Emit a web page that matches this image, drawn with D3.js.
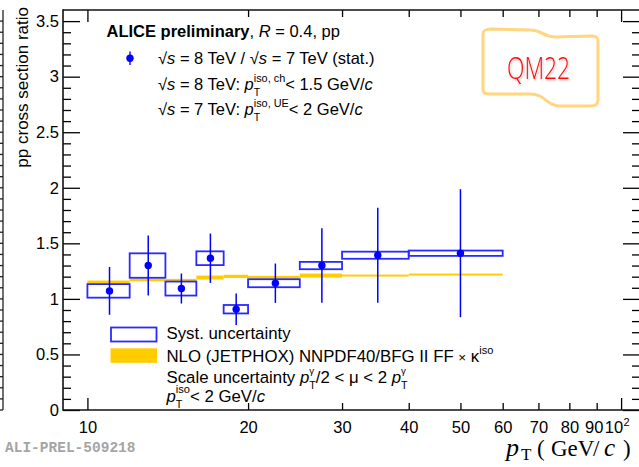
<!DOCTYPE html>
<html>
<head>
<meta charset="utf-8">
<script src="https://cdn.jsdelivr.net/npm/d3@7"></script>
<style>
  html, body { margin: 0; padding: 0; background: #fff; }
  svg text { white-space: pre; }
</style>
</head>
<body>
<svg id="chart" width="639" height="467"></svg>
<script>
// ---- data ----
const binLo    = [10, 12, 14, 16, 18, 20, 25, 30, 40];
const binHi    = [12, 14, 16, 18, 20, 25, 30, 40, 60];
const ptCenter = [11, 13, 15, 17, 19, 22.5, 27.5, 35, 50];
const ratio    = [1.072, 1.300, 1.093, 1.366, 0.907, 1.141, 1.300, 1.393, 1.411];
const statErr  = [0.215, 0.270, 0.135, 0.222, 0.142, 0.177, 0.335, 0.428, 0.576];
const systErr  = [0.061, 0.110, 0.063, 0.062, 0.038, 0.036, 0.033, 0.032, 0.024];
// NLO (JETPHOX) scale-uncertainty band, lower and upper edge per bin
const nloLo    = [1.140, 1.158, 1.160, 1.174, 1.188, 1.183, 1.192, 1.201, 1.210];
const nloHi    = [1.165, 1.184, 1.180, 1.210, 1.217, 1.207, 1.228, 1.219, 1.228];
// axis ticks
const xTicks      = [10, 20, 30, 40, 50, 60, 70, 80, 90, 100];
const xTickLabels = ["10", "20", "30", "40", "50", "60", "70", "80", "90", ""];
const yMajor      = [0, 0.5, 1, 1.5, 2, 2.5, 3, 3.5];
const yMajorLabels = ["0", "0.5", "1", "1.5", "2", "2.5", "3", "3.5"];

const FONT = "'Liberation Sans', Arial, Helvetica, sans-serif";
const SERIF = "'Liberation Serif', 'Times New Roman', serif";
const FS = 16.5;

const svg = d3.select("#chart");
const x = d3.scaleLog().domain([9, 108.5]).range([63, 640]);
const y = d3.scaleLinear().domain([0, 3.6]).range([410, 10]);

const X0 = x.range()[0], X1 = x.range()[1];
const Y0 = y.range()[0], Y1 = y.range()[1];

// ---- edge of neighbouring panel on the left ----
const nb = svg.append("g").attr("stroke", "#222").attr("stroke-width", 1.3);
nb.append("line").attr("x1", 3).attr("x2", 3).attr("y1", Y1).attr("y2", Y0);
const yMinorAll = d3.range(0, 36).map(i => i / 10);
nb.selectAll("line.t").data(yMinorAll).join("line").attr("class", "t")
  .attr("x1", 0).attr("x2", 3).attr("y1", d => y(d)).attr("y2", d => y(d));

// ---- NLO band ----
svg.append("g").selectAll("rect").data(binLo).join("rect")
  .attr("x", (d, i) => x(binLo[i]))
  .attr("width", (d, i) => x(binHi[i]) - x(binLo[i]))
  .attr("y", (d, i) => y(nloHi[i]))
  .attr("height", (d, i) => y(nloLo[i]) - y(nloHi[i]))
  .attr("fill", "#ffcc00");

// ---- systematic boxes ----
svg.append("g").selectAll("rect").data(ratio).join("rect")
  .attr("x", (d, i) => x(binLo[i]))
  .attr("width", (d, i) => x(binHi[i]) - x(binLo[i]))
  .attr("y", (d, i) => y(d + systErr[i]))
  .attr("height", (d, i) => y(d - systErr[i]) - y(d + systErr[i]))
  .attr("fill", "none").attr("stroke", "#2a2aff").attr("stroke-width", 1.8);

// ---- statistical error bars and points ----
svg.append("g").selectAll("line").data(ratio).join("line")
  .attr("x1", (d, i) => x(ptCenter[i])).attr("x2", (d, i) => x(ptCenter[i]))
  .attr("y1", (d, i) => y(d + statErr[i])).attr("y2", (d, i) => y(d - statErr[i]))
  .attr("stroke", "#0000ff").attr("stroke-width", 1.5);
svg.append("g").selectAll("circle").data(ratio).join("circle")
  .attr("cx", (d, i) => x(ptCenter[i])).attr("cy", d => y(d))
  .attr("r", 3.7).attr("fill", "#0000ff");

// ---- axes ----
function styleAxis(g) {
  g.select(".domain").remove();
  g.selectAll(".tick line").attr("stroke", "#000").attr("stroke-width", 1.3);
  g.selectAll(".tick text").attr("font-family", FONT).attr("font-size", FS).attr("fill", "#000");
}
const isDecade = d => d === 10 || d === 100;

const gx = svg.append("g").attr("transform", `translate(0,${Y0})`)
  .call(d3.axisBottom(x).tickValues(xTicks).tickSize(-7).tickPadding(11.3)
    .tickFormat((d, i) => xTickLabels[i]))
  .call(styleAxis);
gx.selectAll(".tick line").attr("y2", d => isDecade(d) ? -12 : -7);
gx.selectAll(".tick text").filter(d => d === 90).attr("dx", -3);

// 10^2 label
const l100 = svg.append("g").attr("font-family", FONT).attr("fill", "#000");
l100.append("text").attr("x", x(100) + 2).attr("y", 433).attr("text-anchor", "end")
  .attr("font-size", FS).text("10");
l100.append("text").attr("x", x(100) + 2.5).attr("y", 426).attr("font-size", 11).text("2");

const gxt = svg.append("g").attr("transform", `translate(0,${Y1})`)
  .call(d3.axisTop(x).tickValues(xTicks).tickSize(-7).tickFormat(""))
  .call(styleAxis);
gxt.selectAll(".tick line").attr("y2", d => isDecade(d) ? 12 : 7);

const yMinor = yMinorAll.filter(v => Math.abs(v * 2 - Math.round(v * 2)) > 1e-6);

svg.append("g").attr("transform", `translate(${X0},0)`)
  .call(d3.axisLeft(y).tickValues(yMajor).tickSize(-17).tickPadding(4)
    .tickFormat((d, i) => yMajorLabels[i]))
  .call(styleAxis);
svg.append("g").attr("transform", `translate(${X0},0)`)
  .call(d3.axisLeft(y).tickValues(yMinor).tickSize(-8).tickFormat(""))
  .call(styleAxis);
svg.append("g").attr("transform", `translate(${X1},0)`)
  .call(d3.axisRight(y).tickValues(yMajor).tickSize(-17).tickFormat(""))
  .call(styleAxis);
svg.append("g").attr("transform", `translate(${X1},0)`)
  .call(d3.axisRight(y).tickValues(yMinor).tickSize(-8).tickFormat(""))
  .call(styleAxis);

// frame
const fr = svg.append("g").attr("stroke", "#111").attr("stroke-width", 1.6).attr("fill", "none");
fr.append("line").attr("x1", X0).attr("x2", X0).attr("y1", Y1 - 0.8).attr("y2", Y0 + 0.8);
fr.append("line").attr("x1", X0).attr("x2", X1).attr("y1", Y0).attr("y2", Y0);
fr.append("line").attr("x1", X0).attr("x2", X1).attr("y1", Y1).attr("y2", Y1);
fr.append("line").attr("x1", X1).attr("x2", X1).attr("y1", Y1).attr("y2", Y0);

// ---- axis titles ----
svg.append("text")
  .attr("transform", "translate(27.5,7) rotate(-90)")
  .attr("text-anchor", "end").attr("font-family", FONT).attr("font-size", 17)
  .text("pp cross section ratio");

// x title, math-style serif: p_T (GeV/c)
const xtg = svg.append("g").attr("font-family", SERIF).attr("fill", "#000");
const xtParts = [
  { t: "p", x: 506, size: 26, italic: true, dy: 0 },
  { t: "T", x: 521, size: 17, dy: 4 },
  { t: "(", x: 537, size: 23, dy: 0 },
  { t: "GeV", x: 551, size: 23, dy: 0 },
  { t: "/", x: 593, size: 23, dy: 0 },
  { t: "c", x: 604, size: 25, italic: true, dy: 0 },
  { t: ")", x: 623, size: 23, dy: 0 }
];
xtParts.forEach(p => {
  xtg.append("text").attr("x", p.x).attr("y", 456 + p.dy)
    .attr("font-size", p.size).attr("font-style", p.italic ? "italic" : null).text(p.t);
});

// ---- rich text helper: runs of text with italic/bold and stacked sub/superscripts ----
function rich(g, x0, y0, segs, size) {
  let cx = x0;
  function put(px, s) {
    const t = g.append("text").attr("x", px).attr("y", y0 + (s.dy || 0))
      .attr("font-family", FONT).attr("font-size", size * (s.k || 1))
      .attr("font-style", s.i ? "italic" : null)
      .attr("font-weight", s.b ? "bold" : null)
      .attr("fill", "#000").text(s.t);
    return t.node().getComputedTextLength();
  }
  segs.forEach(s => {
    if (s.stack) {
      let w = 0;
      s.stack.forEach(p => { w = Math.max(w, put(cx, p)); });
      cx += w;
    } else {
      cx += put(cx, s);
    }
  });
}
const sub = t => ({ t, k: 0.64, dy: 6 });
const sup = t => ({ t, k: 0.66, dy: -8.5 });

// ---- top legend ----
const lg = svg.append("g");
rich(lg, 106.5, 36.5, [
  { t: "ALICE preliminary", b: 1 }, { t: ", " }, { t: "R", i: 1 }, { t: " = 0.4, pp" }
], FS);
lg.append("line").attr("x1", 130).attr("x2", 130).attr("y1", 51.5).attr("y2", 65)
  .attr("stroke", "#3b3bff").attr("stroke-width", 1.8);
lg.append("circle").attr("cx", 130).attr("cy", 58.3).attr("r", 3.7).attr("fill", "#0000ff");
rich(lg, 158, 64, [
  { t: "√" }, { t: "s", i: 1 }, { t: " = 8 TeV / √" }, { t: "s", i: 1 }, { t: " = 7 TeV (stat.)" }
], FS);
rich(lg, 158, 90, [
  { t: "√" }, { t: "s", i: 1 }, { t: " = 8 TeV: " }, { t: "p", i: 1 },
  { stack: [sub("T"), sup("iso, ch")] }, { t: "< 1.5 GeV/" }, { t: "c", i: 1 }
], FS);
rich(lg, 158, 115, [
  { t: "√" }, { t: "s", i: 1 }, { t: " = 7 TeV: " }, { t: "p", i: 1 },
  { stack: [sub("T"), sup("iso, UE")] }, { t: "< 2 GeV/" }, { t: "c", i: 1 }
], FS);

// ---- bottom legend ----
const lb = svg.append("g");
lb.append("rect").attr("x", 111).attr("y", 327.5).attr("width", 45.5).attr("height", 14)
  .attr("fill", "none").attr("stroke", "#2a2aff").attr("stroke-width", 1.8);
lb.append("rect").attr("x", 110.5).attr("y", 348.3).attr("width", 46.5).attr("height", 14.5)
  .attr("fill", "#ffcc00");
const LFS = 16.8;
rich(lb, 166.5, 339, [{ t: "Syst. uncertainty" }], LFS);
rich(lb, 166.5, 361.5, [
  { t: "NLO (JETPHOX) NNPDF40/BFG II FF " }, { t: "×", k: 0.8 }, { t: " κ" },
  { stack: [{ t: "iso", k: 0.66, dy: -8 }] }
], LFS);
rich(lb, 166.5, 382.5, [
  { t: "Scale uncertainty " }, { t: "p", i: 1 }, { stack: [sub("T"), { t: "γ", k: 0.58, dy: -8.5 }] },
  { t: "/2 < μ < 2 " }, { t: "p", i: 1 }, { stack: [sub("T"), { t: "γ", k: 0.58, dy: -8.5 }] }
], LFS);
rich(lb, 166.5, 401.5, [
  { t: "p", i: 1 }, { stack: [sub("T"), sup("iso")] }, { t: "< 2 GeV/" }, { t: "c", i: 1 }
], LFS);

// ---- preliminary tag ----
svg.append("text").attr("x", 5).attr("y", 451.5)
  .attr("font-family", "'Liberation Mono', 'Courier New', monospace")
  .attr("font-weight", "bold").attr("font-size", 14.5).attr("fill", "#a5a5a5")
  .text("ALI-PREL-509218");

// ---- conference badge ----
const defs = svg.append("defs");
const f = defs.append("filter").attr("id", "shade").attr("x", "-20%").attr("y", "-20%")
  .attr("width", "140%").attr("height", "140%");
f.append("feDropShadow").attr("dx", 1).attr("dy", 1.5).attr("stdDeviation", 1)
  .attr("flood-color", "#000").attr("flood-opacity", 0.25);
const badge = svg.append("g");
badge.append("path")
  .attr("d", "M483,34 C483,30 486,29 492,29 L530,30 C543,30 542,37 556,37 L592,36 " +
             "C597,36 598,38 598,42 L598,100 C598,104 596,106 590,106 L560,106 " +
             "C546,106 546,94 530,94 L490,94 C485,94 483,93 483,90 Z")
  .attr("fill", "#fff").attr("stroke", "#ffd57f").attr("stroke-width", 3);
badge.append("text").attr("x", 507).attr("y", 79)
  .attr("font-family", "'Open Sans', 'Liberation Sans', sans-serif")
  .attr("font-weight", 300).attr("font-size", 31)
  .attr("textLength", 63).attr("lengthAdjust", "spacingAndGlyphs")
  .attr("fill", "#ff1010").attr("filter", "url(#shade)")
  .text("QM22");
</script>
</body>
</html>
